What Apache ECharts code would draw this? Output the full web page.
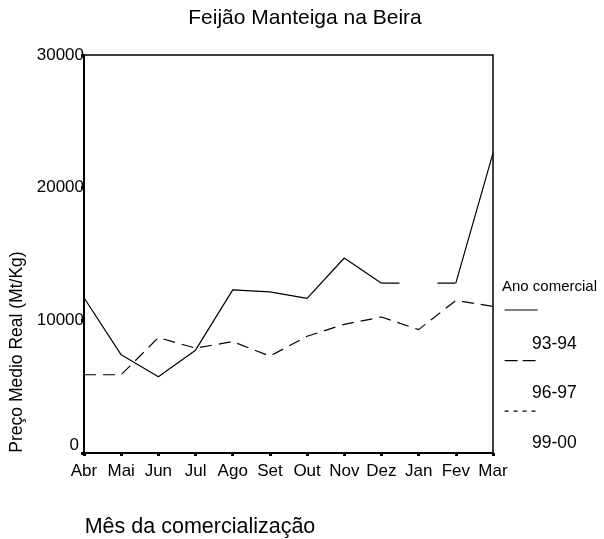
<!DOCTYPE html>
<html lang="pt">
<head>
  <meta charset="UTF-8">
  <title>Feijão Manteiga na Beira</title>
  <style>
    html, body { margin:0; padding:0; background:#fff; }
    #main { width:604px; height:539px; }
  </style>
</head>
<body>
<div id="main"></div>
<script src="https://cdn.jsdelivr.net/npm/echarts@6/dist/echarts.min.js"></script>
<script>
// meses do ano comercial
var meses = ['Abr', 'Mai', 'Jun', 'Jul', 'Ago', 'Set', 'Out', 'Nov', 'Dez', 'Jan', 'Fev', 'Mar'];
var anos = ['93-94', '96-97', '99-00'];
// preco medio real (Mt/Kg); Jan 93-94 em falta
var preco9394 = [11700, 7400, 5750, 7750, 12300, 12150, 11650, 14700, 12800, null, 12800, 22600];
var preco9697 = [5900, 5900, 8700, 7900, 8400, 7300, 8800, 9700, 10250, 9300, 11500, 11050];
var preco9900 = [null, null, null, null, null, null, null, null, null, null, null, null];
var yTicks = [0, 10000, 20000, 30000];

var fonte = "'Liberation Sans', Arial, sans-serif";
var myChart = echarts.init(document.getElementById('main'));

// troco que liga Dez a Fev por cima do valor em falta
var ponte9394 = preco9394.map(function(v, i) {
  return (preco9394[i - 1] === null || preco9394[i + 1] === null) ? v : null;
});

var option = {
  animation: false,
  backgroundColor: '#fff',
  textStyle: { fontFamily: fonte, color: '#000' },
  title: [{
    text: 'Feijão Manteiga na Beira',
    left: 305,
    textAlign: 'center',
    top: 8,
    padding: 0,
    textStyle: { fontFamily: fonte, fontSize: 21, fontWeight: 'normal', color: '#000' }
  }, {
    text: 'Ano comercial',
    left: 502,
    top: 279,
    padding: 0,
    textStyle: { fontFamily: fonte, fontSize: 15, fontWeight: 'normal', color: '#000' }
  }],
  legend: [{
    // so os simbolos
    orient: 'vertical',
    left: 504,
    top: 303,
    itemWidth: 33,
    itemHeight: 14,
    itemGap: 38,
    padding: 0,
    formatter: function() { return ''; },
    itemStyle: { color: 'rgba(0,0,0,0)', borderWidth: 0 },
    data: [
      { name: anos[0], lineStyle: { color: '#000', width: 1.2, type: 'solid' } },
      { name: anos[1], lineStyle: { color: '#000', width: 1.2, type: [13, 5] } },
      { name: anos[2], lineStyle: { color: '#000', width: 1.2, type: [4, 5] } }
    ]
  }, {
    // so os textos
    orient: 'vertical',
    left: 527,
    top: 335,
    icon: 'none',
    itemWidth: 0,
    itemHeight: 18,
    itemGap: 31.5,
    padding: 0,
    textStyle: { fontFamily: fonte, fontSize: 17.5, color: '#000' },
    data: anos
  }],
  grid: {
    left: 84,
    right: 111,
    top: 55,
    bottom: 86,
    outerBoundsMode: 'none',
    show: true,
    borderColor: '#000',
    borderWidth: 1.5
  },
  xAxis: {
    type: 'category',
    data: meses,
    boundaryGap: false,
    name: 'Mês da comercialização',
    nameLocation: 'middle',
    nameGap: 63,
    nameTextStyle: { fontFamily: fonte, fontSize: 21.5, color: '#000', padding: [0, 177, 0, 0] },
    axisLine: { lineStyle: { color: '#000', width: 2 } },
    axisTick: { show: true, length: 3, alignWithLabel: true, lineStyle: { color: '#000', width: 3 } },
    axisLabel: { interval: 0, margin: 10, fontFamily: fonte, fontSize: 17, color: '#000' },
    splitLine: { show: false }
  },
  yAxis: {
    type: 'value',
    min: yTicks[0],
    max: yTicks[yTicks.length - 1],
    interval: yTicks[1] - yTicks[0],
    name: 'Preço Medio Real (Mt/Kg)',
    nameLocation: 'middle',
    nameGap: 57,
    nameTextStyle: { fontFamily: fonte, fontSize: 17.5, color: '#000', padding: [0, 196, 0, 0] },
    axisLine: { show: true, lineStyle: { color: '#000', width: 2 } },
    axisTick: { show: true, length: 3, lineStyle: { color: '#000', width: 3 } },
    axisLabel: {
      margin: 0,
      fontFamily: fonte,
      fontSize: 17,
      color: '#000',
      formatter: function(v) { return v === 0 ? '{z|0}' : String(v); },
      rich: { z: { fontFamily: fonte, fontSize: 17, color: '#000', padding: [0, 5, 16, 0] } }
    },
    splitLine: { show: false }
  },
  series: [{
    name: anos[0],
    type: 'line',
    data: preco9394,
    symbol: 'none',
    connectNulls: false,
    lineStyle: { color: '#000', width: 1.2, type: 'solid' }
  }, {
    name: anos[0],
    type: 'line',
    data: ponte9394,
    symbol: 'none',
    connectNulls: true,
    lineStyle: { color: '#000', width: 1.2, type: [18, 38] }
  }, {
    name: anos[1],
    type: 'line',
    data: preco9697,
    symbol: 'none',
    lineStyle: { color: '#000', width: 1.2, type: [12, 7] }
  }, {
    name: anos[2],
    type: 'line',
    data: preco9900,
    symbol: 'none',
    lineStyle: { color: '#000', width: 1.2, type: [4, 5] }
  }]
};

myChart.setOption(option);
</script>
</body>
</html>
